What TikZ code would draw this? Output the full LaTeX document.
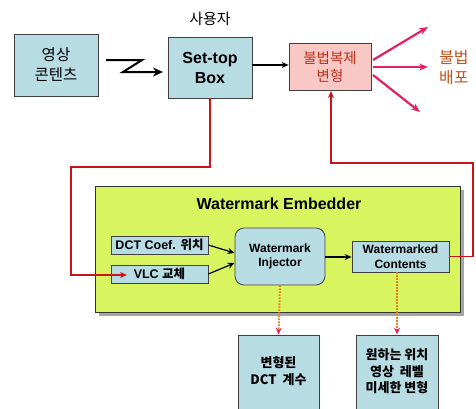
\documentclass[tikz,border=0pt]{standalone}
\usepackage{fontspec}
\setmainfont{Liberation Sans}
\newfontfamily\kr{Noto Sans CJK KR}
\usetikzlibrary{arrows.meta}
\definecolor{boxblue}{HTML}{B7DCE3}
\definecolor{limefill}{HTML}{D8F560}
\definecolor{pinkfill}{HTML}{F9C8C4}
\definecolor{pinkarrow}{HTML}{E61E64}
\definecolor{redline}{HTML}{CC1418}
\definecolor{darkredtext}{HTML}{B8321E}
\definecolor{brtext}{HTML}{C0521E}
\definecolor{dotorange}{HTML}{E8801E}
\begin{document}
\begin{tikzpicture}[x=1pt,y=-1pt,
  bluebox/.style={draw=black!75, fill=boxblue, line width=0.8pt, inner sep=0pt, align=center},
  blkarrow/.style={-{Stealth[length=7pt,width=6pt]}, line width=1.2pt},
  redconn/.style={draw=redline, line width=1.3pt},
  pinkarr/.style={draw=pinkarrow, line width=2.2pt, -{Stealth[length=9pt,width=7pt]}},
  dotarr/.style={draw=dotorange, line width=2pt, dash pattern=on 1.6pt off 1.4pt,
     -{Stealth[length=7pt,width=6pt,color=pinkarrow]}},
  lbl/.style={inner sep=0pt, align=center}
]
\useasboundingbox (0,0) rectangle (476,408);

% top row
\node[bluebox, minimum width=84pt, minimum height=62pt, font=\kr\fontsize{15.5}{20}\selectfont] (src) at (56,65) {영상\\콘텐츠};
\node[bluebox, minimum width=84pt, minimum height=61pt, font=\bfseries\fontsize{16}{20}\selectfont] (stb) at (210,67.5) {Set-top\\Box};
\node[lbl, font=\kr\fontsize{15}{17}\selectfont] (user) at (210,19) {사용자};
\node[draw=black!75, fill=pinkfill, line width=0.8pt, minimum width=82pt, minimum height=47pt, inner sep=0pt, align=center, text=darkredtext, font=\kr\fontsize{14.5}{18}\selectfont] (ill) at (330,67) {불법복제\\변형};

\coordinate (z1) at (106,60);
\coordinate (z2) at (142,60);
\coordinate (z3) at (123,72);
\coordinate (z4) at (163,72);
\draw[line width=2pt, -{Stealth[length=10pt,width=9pt]}] (z1) -- (z2) -- (z3) -- (z4);
\draw[blkarrow] (stb.east |- 0,65) -- (ill.west |- 0,65);

\coordinate (p1) at (373,60);
\coordinate (p2) at (373,67);
\coordinate (p3) at (373,75);
\coordinate (q1) at (428,27);
\coordinate (q2) at (428,67);
\coordinate (q3) at (420,112);
\draw[pinkarr] (p1) -- (q1);
\draw[pinkarr] (p2) -- (q2);
\draw[pinkarr] (p3) -- (q3);
\node[lbl, anchor=west, text=brtext, font=\kr\fontsize{16}{20}\selectfont] (dist) at (439,68) {불법\\배포};

% embedder
\fill[black!35] (99,190) rectangle (464,316);
\draw[fill=limefill, line width=0.9pt, draw=black!80] (95,186) rectangle (460,312);
\node[lbl, font=\bfseries\fontsize{16}{18}\selectfont] (title) at (279,204) {Watermark Embedder};

\node[bluebox, minimum width=97pt, minimum height=18pt, font=\bfseries\fontsize{12.5}{14}\selectfont] (dct) at (159.5,245) {DCT Coef. {\kr 위치}};
\node[bluebox, minimum width=97pt, minimum height=18pt, font=\bfseries\fontsize{12.5}{14}\selectfont] (vlc) at (159.5,274) {VLC {\kr 교체}};
\node[bluebox, rounded corners=9pt, minimum width=90pt, minimum height=57pt, font=\bfseries\fontsize{12}{14.5}\selectfont] (inj) at (280,256.5) {Watermark\\Injector};
\node[bluebox, minimum width=97pt, minimum height=31pt, font=\bfseries\fontsize{12}{14.5}\selectfont] (wmc) at (400.5,256.5) {Watermarked\\Contents};

\draw[blkarrow] (dct.east) -- (inj.west |- 0,253);
\draw[blkarrow] (vlc.east) -- (inj.west |- 0,263);
\draw[blkarrow] (inj.east |- 0,257) -- (wmc.west |- 0,257);

% red connectors
\coordinate (r1) at (210,167);
\coordinate (r2) at (71,167);
\coordinate (r3) at (71,275);
\coordinate (r4) at (127,275);
\draw[redconn, -{Stealth[length=7pt,width=6pt]}] (stb.south) -- (r1) -- (r2) -- (r3) -- (r4);
\coordinate (s1) at (473,256.5);
\coordinate (s2) at (473,163);
\coordinate (s3) at (331,163);
\draw[redconn, -{Stealth[length=7pt,width=6pt]}] (wmc.east) -- (s1) -- (s2) -- (s3) -- (ill.south -| s3);

% bottom boxes
\node[bluebox, minimum width=81pt, minimum height=80pt] (b1) at (278.5,375) {};
\node[bluebox, minimum width=82pt, minimum height=80pt] (b2) at (397,375) {};
\node[lbl, font=\kr\bfseries\fontsize{13}{17}\selectfont] (b1t) at (278.5,371.5) {변형된\\DCT\ \ 계수};
\node[lbl, font=\kr\bfseries\fontsize{13}{16.5}\selectfont] (b2t) at (397,371.5) {원하는\ 위치\\영상\ \ 레벨\\미세한\ 변형};

\draw[dotarr] (inj.south) -- (b1.north);
\draw[dotarr] (wmc.south -| b2.north) -- (b2.north);
\end{tikzpicture}
\end{document}
